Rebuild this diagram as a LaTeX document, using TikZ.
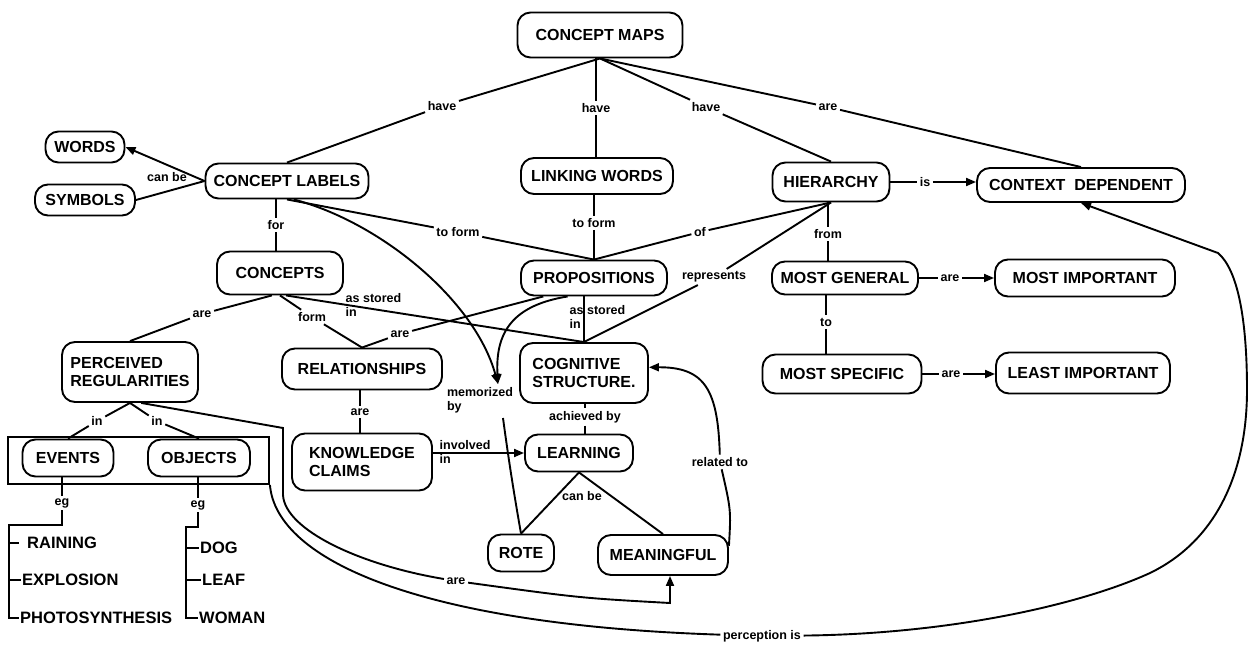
\documentclass[tikz,border=0pt]{standalone}
\usepackage{fontspec}
\setmainfont{Liberation Sans}
\usetikzlibrary{arrows.meta}
\newcommand\cmnodefont{\bfseries\fontsize{16}{18.5}\selectfont}
\newcommand\cmlblfont{\bfseries\fontsize{12.5}{14}\selectfont}
\newcommand\cmitemfont{\bfseries\fontsize{16.5}{18}\selectfont}
\tikzset{
  cn/.style={draw, line width=1.9pt, rounded corners=13pt, font=\cmnodefont, inner sep=2pt},
  lb/.style={font=\cmlblfont, inner sep=2.5pt},
  itm/.style={font=\cmitemfont, inner sep=1pt, anchor=west},
  ln/.style={line width=1.9pt},
  ar/.style={line width=1.9pt, -{Triangle[length=10pt,width=8pt]}},
}
\begin{document}
\begin{tikzpicture}[x=1pt,y=-1pt]
\fill[white] (0,0) rectangle (1251,646);
\useasboundingbox (0,0) rectangle (1251,646);

% concept nodes
\node[cn,minimum width=165pt,minimum height=45pt] (CM) at (600,35) {CONCEPT MAPS};
\node[cn,minimum width=163pt,minimum height=35pt] (CL) at (287,181) {CONCEPT LABELS};
\node[cn,minimum width=79pt,minimum height=31pt] (WORDS) at (85,147) {WORDS};
\node[cn,minimum width=100pt,minimum height=31pt] (SYM) at (85,200) {SYMBOLS};
\node[cn,minimum width=126pt,minimum height=43pt] (CONC) at (280,273) {CONCEPTS};
\node[cn,minimum width=152pt,minimum height=36pt] (LW) at (597,176) {LINKING WORDS};
\node[cn,minimum width=117pt,minimum height=39pt] (HIER) at (831,182) {HIERARCHY};
\node[cn,minimum width=208pt,minimum height=34pt] (CD) at (1081,185) {CONTEXT\ \ DEPENDENT};
\node[cn,minimum width=146pt,minimum height=35pt] (PROP) at (594,278) {PROPOSITIONS};
\node[cn,minimum width=146pt,minimum height=33pt] (MG) at (845,278) {MOST GENERAL};
\node[cn,minimum width=180pt,minimum height=37pt] (MI) at (1085,278) {MOST IMPORTANT};
\node[cn,minimum width=159pt,minimum height=39pt] (MS) at (842,374) {MOST SPECIFIC};
\node[cn,minimum width=174pt,minimum height=41pt] (LI) at (1083,373) {LEAST IMPORTANT};
\node[cn,minimum width=160pt,minimum height=41pt] (REL) at (362,369) {RELATIONSHIPS};
\node[cn,minimum width=140pt,minimum height=57pt,align=left] (KC) at (362,462) {KNOWLEDGE\\CLAIMS};
\node[cn,minimum width=128pt,minimum height=60pt,align=left] (COG) at (584,373) {COGNITIVE\\STRUCTURE.};
\node[cn,minimum width=108pt,minimum height=37pt] (LEARN) at (579,453) {LEARNING};
\node[cn,minimum width=66pt,minimum height=37pt] (ROTE) at (521,553) {ROTE};
\node[cn,minimum width=130pt,minimum height=40pt] (MEAN) at (663,555) {MEANINGFUL};
\node[cn,minimum width=136pt,minimum height=60pt,align=left] (PR) at (130,372) {PERCEIVED\\REGULARITIES};
\node[cn,minimum width=91pt,minimum height=37pt] (EV) at (68,458) {EVENTS};
\node[cn,minimum width=102pt,minimum height=37pt] (OBJ) at (199,458) {OBJECTS};
\node[draw,line width=1.9pt,minimum width=261pt,minimum height=47pt,inner sep=0pt] (GRP) at (138.5,460.5) {};

% example items
\node[itm] (RAIN) at (26,543) {RAINING};
\node[itm] (EXPL) at (21,580) {EXPLOSION};
\node[itm] (PHOTO) at (19,618) {PHOTOSYNTHESIS};
\node[itm] (DOG) at (199,548) {DOG};
\node[itm] (LEAF) at (201,580) {LEAF};
\node[itm] (WOMAN) at (198,618) {WOMAN};

% linking labels
\node[lb] (have1) at (442,106) {have};
\node[lb] (have2) at (596,108) {have};
\node[lb] (have3) at (706,107) {have};
\node[lb] (are1) at (828,107) {are};
\node[lb] (canbe) at (167,177) {can be};
\node[lb] (lfor) at (276,225) {for};
\node[lb] (tf1) at (458,232) {to form};
\node[lb] (tf2) at (594,223) {to form};
\node[lb] (lof) at (700,232) {of};
\node[lb] (repr) at (714,277) {represents};
\node[lb] (lfrom) at (828,234) {from};
\node[lb] (lis) at (925,182) {is};
\node[lb] (are2) at (950,278) {are};
\node[lb] (lto) at (826,322) {to};
\node[lb] (are3) at (951,374) {are};
\node[lb] (are4) at (202,314) {are};
\node[lb] (lform) at (312,317) {form};
\node[lb,anchor=west,align=left] (asi1) at (343,305) {as stored\\in};
\node[lb] (are5) at (400,334) {are};
\node[lb,anchor=west,align=left] (asi2) at (567,317) {as stored\\in};
\node[lb] (are6) at (360,412) {are};
\node[lb,anchor=west,align=left] (inv) at (437,452) {involved\\in};
\node[lb] (lach) at (585,417) {achieved by};
\node[lb] (canbe2) at (582,496) {can be};
\node[lb,align=left] (mem) at (480,400) {memorized\\by};
\node[lb] (lrel) at (720,462) {related to};
\node[lb] (are7) at (456,581) {are};
\node[lb] (perc) at (762,636) {perception is};
\node[lb] (in1) at (97,421) {in};
\node[lb] (in2) at (157,421) {in};
\node[lb] (leg1) at (62,503) {eg};
\node[lb] (leg2) at (198,505) {eg};

% connectors from CONCEPT MAPS
\draw[ln] (CM.south) -- (have1) -- (CL.north);
\draw[ln] (have2 |- CM.south) -- (have2) -- (have2 |- LW.north);
\draw[ln] (CM.south) -- (have3) -- (HIER.north);
\draw[ln] (CM.south) -- (are1) -- (CD.north);

% concept labels
\draw[ar] (CL.west) -- (WORDS.east);
\draw[ln] (SYM.east) -- (CL.west);
\draw[ln] (lfor |- CL.south) -- (lfor) -- (lfor |- CONC.north);
\draw[ln] (CL.south) -- (tf1) -- (PROP.north);
\draw[ln] (tf2 |- LW.south) -- (tf2) -- (tf2 |- PROP.north);

% hierarchy
\draw[ln] (HIER.south) -- (lof) -- (PROP.north);
\draw[ln] (HIER.south) -- (repr) -- (COG.north);
\draw[ln] (lfrom |- HIER.south) -- (lfrom) -- (lfrom |- MG.north);
\draw[ln] (HIER.east) -- (lis);
\draw[ar] (lis) -- (lis -| CD.west);
\draw[ln] (MG.east) -- (are2);
\draw[ar] (are2) -- (are2 -| MI.west);
\draw[ln] (lto |- MG.south) -- (lto) -- (lto |- MS.north);
\draw[ln] (MS.east) -- (are3);
\draw[ar] (are3) -- (are3 -| LI.west);

% concepts
\draw[ln] (CONC.250) -- (are4) -- (PR.north);
\draw[ln] (CONC.south) -- (lform) -- (REL.north);
\draw[ln] (CONC.285) -- (COG.north);
\draw[ln] (PROP.200) -- (are5) -- (REL.north);
\draw[ln] (PROP.south -| COG.north) -- (COG.north);
\draw[ln] (are6 |- REL.south) -- (are6) -- (are6 |- KC.north);
\draw[ar] (LEARN.west -| KC.east) -- (LEARN.west);
\draw[ln] (lach |- COG.south) -- (lach) -- (lach |- LEARN.north);
\draw[ln] (LEARN.south) -- (ROTE.north);
\draw[ln] (LEARN.south) -- (MEAN.north);

% memorized by
\coordinate (memtip) at (498,384);
\coordinate (memout) at (503,418);
\draw[ar] (CL.290) .. controls (380,222) and (475,300) .. (memtip);
\draw[ar] (PROP.215) .. controls (515,305) and (495,330) .. (memtip);
\draw[ln] (memout) .. controls (510,470) and (516,505) .. (ROTE.north);

% related to
\draw[ln] (MEAN.8) .. controls (731,510) .. (lrel);
\draw[ar] (lrel) .. controls (718,390) and (705,367) .. (COG.5);

% perceived regularities
\draw[ln] (PR.south) -- (in1) -- (EV.north);
\draw[ln] (PR.south) -- (in2) -- (OBJ.north);
\coordinate (pa1) at (283,428);
\coordinate (pa2) at (283,495);
\coordinate (pa3) at (670,603);
\draw[ln] (PR.290) -- (pa1) -- (pa2) .. controls (285,530) and (360,565) .. (are7);
\draw[ar] (are7) .. controls (580,598) .. (pa3) -- (pa3 |- MEAN.south);

% perception is
\coordinate (pc1) at (1150,573);
\coordinate (pc2) at (1247,390);
\coordinate (pc3) at (1218,253);
\draw[ln] (GRP.south east) .. controls (276,560) and (420,625) .. (perc);
\draw[ar] (perc) .. controls (950,634) and (1080,605) .. (pc1)
  .. controls (1218,540) and (1247,470) .. (pc2)
  .. controls (1247,320) and (1238,270) .. (pc3) -- (CD.south);

% example brackets
\coordinate (e1) at (62,525);
\coordinate (e2) at (9,525);
\coordinate (e3) at (9,618);
\draw[ln] (leg1 |- EV.south) -- (leg1);
\draw[ln] (leg1) -- (e1) -- (e2) -- (e3) -- (PHOTO.west);
\draw[ln] (e2 |- RAIN.west) -- +(10,0);
\draw[ln] (e2 |- EXPL.west) -- (EXPL.west);
\coordinate (o1) at (198,527);
\coordinate (o2) at (186,527);
\coordinate (o3) at (186,618);
\draw[ln] (leg2 |- OBJ.south) -- (leg2);
\draw[ln] (leg2) -- (o1) -- (o2) -- (o3) -- (WOMAN.west);
\draw[ln] (o2 |- DOG.west) -- (DOG.west);
\draw[ln] (o2 |- LEAF.west) -- (LEAF.west);
\end{tikzpicture}
\end{document}
